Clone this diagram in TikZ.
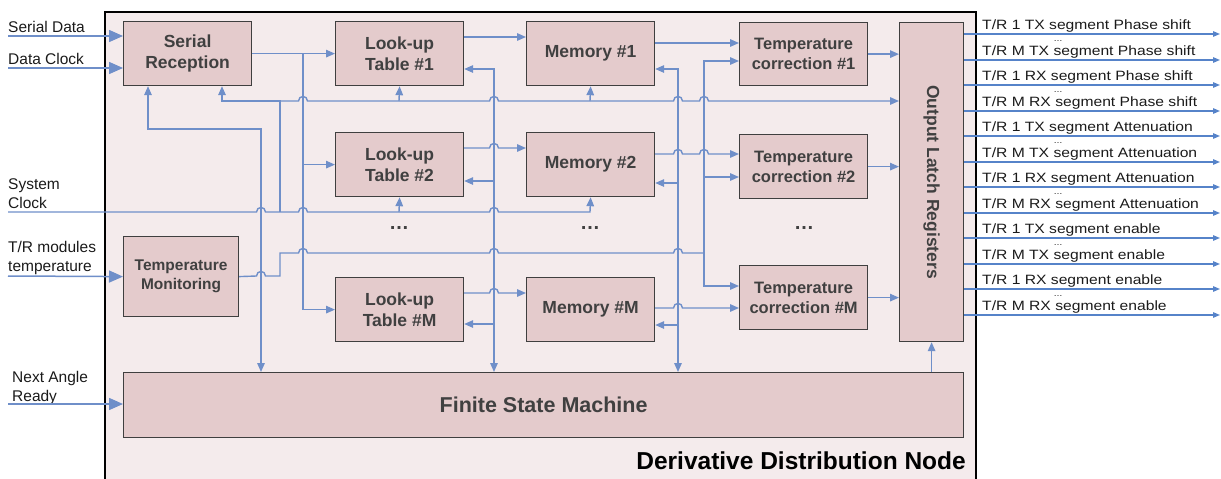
\documentclass[tikz,border=0pt]{standalone}
\usepackage{fontspec}
\setmainfont{Liberation Sans}
\newfontfamily\widesans[FakeStretch=1.16]{Liberation Sans}
\usetikzlibrary{arrows.meta}

\definecolor{nodebg}{HTML}{F4EBEC}
\definecolor{blockfill}{HTML}{E4CBCC}
\definecolor{blockline}{HTML}{3F3F3F}
\definecolor{blocktext}{HTML}{404040}
\definecolor{wirecol}{HTML}{6F8FC9}
\definecolor{outcol}{HTML}{5683C9}
\definecolor{labeltext}{HTML}{1A1A1A}

% line jump (small semicircular hop) over a vertical wire at x=#1 on a horizontal run at y=#2
\newcommand\hop[2]{-- ({#1-4.5},#2) .. controls ({#1-4.5},{#2-6}) and ({#1+4.5},{#2-6}) .. ({#1+4.5},#2)}

\begin{document}
\begin{tikzpicture}[x=1pt,y=-1pt,
  block/.style={draw=blockline, line width=1.2pt, fill=blockfill, text=blocktext,
    align=center, inner sep=0pt, anchor=north west,
    font=\bfseries\fontsize{17.5}{21}\selectfont},
  wire/.style={draw=wirecol, line width=1.4pt},
  arrowin/.style={-{Triangle[length=9pt,width=7.5pt]}},
  arrowboth/.style={{Triangle[length=9pt,width=7.5pt]}-{Triangle[length=9pt,width=7.5pt]}},
  infeed/.style={draw=wirecol, line width=1.5pt, -{Triangle[length=14pt,width=12pt]}},
  outwire/.style={draw=outcol, line width=1.3pt, -{Triangle[length=7pt,width=5.5pt]}},
  inlabel/.style={anchor=west, align=left, inner sep=0pt, text=labeltext,
    font=\fontsize{15.5}{19}\selectfont},
  outlabel/.style={anchor=base west, inner sep=0pt, text=labeltext,
    font=\widesans\fontsize{13.5}{15}\selectfont},
  outdots/.style={anchor=base, inner sep=0pt, text=labeltext, font=\fontsize{9}{10}\selectfont},
  rowdots/.style={inner sep=0pt, text=blocktext, font=\bfseries\fontsize{20}{22}\selectfont},
]
\useasboundingbox (0,0) rectangle (1221,479);

% enclosing node
\node[draw=black, line width=2pt, fill=nodebg, anchor=north west, inner sep=0pt,
      minimum width=871pt, minimum height=475pt] (ddn) at (104,11) {};
\node[anchor=base east, inner sep=0pt, font=\bfseries\fontsize{24.5}{26}\selectfont]
      (ddnlabel) at (966,469) {Derivative Distribution Node};

% functional blocks
\node[block, minimum width=128pt, minimum height=64pt] (sr)   at (123,21)  {Serial\\Reception};
\node[block, minimum width=128pt, minimum height=64pt] (lut1) at (335,21)  {Look-up\\Table \#1};
\node[block, minimum width=128pt, minimum height=64pt] (mem1) at (526,21)  {Memory \#1};
\node[block, minimum width=128pt, minimum height=63pt,
      font=\bfseries\fontsize{16.5}{20}\selectfont] (tc1) at (739,22) {Temperature\\correction \#1};
\node[block, minimum width=128pt, minimum height=64pt] (lut2) at (335,132) {Look-up\\Table \#2};
\node[block, minimum width=128pt, minimum height=64pt] (mem2) at (526,132) {Memory \#2};
\node[block, minimum width=128pt, minimum height=64pt,
      font=\bfseries\fontsize{16.5}{20}\selectfont] (tc2) at (739,134) {Temperature\\correction \#2};
\node[block, minimum width=128pt, minimum height=64pt] (lutm) at (335,277) {Look-up\\Table \#M};
\node[block, minimum width=128pt, minimum height=64pt] (memm) at (526,277) {Memory \#M};
\node[block, minimum width=128pt, minimum height=64pt,
      font=\bfseries\fontsize{16.5}{20}\selectfont] (tcm) at (739,265) {Temperature\\correction \#M};
\node[block, minimum width=115pt, minimum height=80pt,
      font=\bfseries\fontsize{15.5}{19}\selectfont] (tm) at (123,236) {Temperature\\Monitoring};
\node[block, minimum width=840pt, minimum height=65pt,
      font=\bfseries\fontsize{21.5}{24}\selectfont] (fsm) at (123,372) {Finite State Machine};
\node[block, minimum width=64pt, minimum height=319pt] (olr) at (899,22) {};
\node[rotate=-90, inner sep=0pt, text=blocktext, font=\bfseries\fontsize{17.5}{21}\selectfont]
      (olrtext) at (olr.center) {Output Latch Registers};

% continuation marks
\node[rowdots] (dotslut) at (399,228) {…};
\node[rowdots] (dotsmem) at (590,228) {…};
\node[rowdots] (dotstc)  at (804,228) {…};

% external inputs
\node[inlabel] (lsd)  at (8,27)      {Serial Data};
\node[inlabel] (ldc)  at (8,59)      {Data Clock};
\node[inlabel] (lclk) at (8,194)     {System\\Clock};
\node[inlabel] (ltmp) at (8,258)     {T/R modules\\temperature};
\node[inlabel] (lna)  at (12,387.5)  {Next Angle\\Ready};

\coordinate (sdin)  at (8,36);
\coordinate (dcin)  at (8,68);
\coordinate (clkin) at (8,212);
\coordinate (tmpin) at (8,276);
\coordinate (nain)  at (8,404);

\draw[infeed] (sdin)  -- (sr.west |- sdin);
\draw[infeed] (dcin)  -- (sr.west |- dcin);
\draw[infeed] (tmpin) -- (tm.west);
\draw[infeed] (nain)  -- (fsm.west |- nain);

% system clock distribution
\draw[wire, arrowin] (clkin) \hop{261}{212} -- (280,212) \hop{303}{212} \hop{494}{212}
      -- (590,212) -- (mem2.south);
\draw[wire, arrowin] (399,212) -- (lut2.south);
\draw[wire, arrowin] (280,212) -- (280,101) -- (222,101) -- (sr.south -| 222,0);
\draw[wire, arrowin] (280,101) \hop{303}{101} \hop{494}{101} \hop{678}{101} \hop{704}{101}
      -- (olr.west |- 0,101);
\draw[wire, arrowin] (399,101) -- (lut1.south);
\draw[wire, arrowin] (590,101) -- (mem1.south);

% temperature monitoring to the correction blocks
\draw[wire] (tm.east) \hop{261}{276} -- (280,276) -- (280,253)
      \hop{303}{253} \hop{494}{253} \hop{678}{253} -- (704,253);
\draw[wire, arrowin] (704,253) -- (704,61) -- (tc1.west |- 0,61);
\draw[wire, arrowin] (704,177) -- (tc2.west |- 0,177);
\draw[wire, arrowin] (704,253) -- (704,286) -- (tcm.west |- 0,286);

% serial reception to the look-up tables
\draw[wire, arrowin] (sr.east) -- (lut1.west);
\draw[wire, arrowin] (303,53) |- (lutm.west);
\draw[wire, arrowin] (lut2.west -| 303,0) -- (lut2.west);

% serial reception <-> state machine
\draw[wire, arrowboth] (sr.south -| 148,0) |- (261,129) -- (fsm.north -| 261,0);

% state machine buses to look-up tables and memories
\draw[wire, arrowboth] (lut1.east |- 0,69) -| (fsm.north -| 494,0);
\draw[wire, arrowin] (494,181) -- (lut2.east |- 0,181);
\draw[wire, arrowin] (494,324) -- (lutm.east |- 0,324);
\draw[wire, arrowboth] (mem1.east |- 0,69) -| (fsm.north -| 678,0);
\draw[wire, arrowin] (678,183) -- (mem2.east |- 0,183);
\draw[wire, arrowin] (678,325) -- (memm.east |- 0,325);

% look-up tables to memories
\draw[wire, arrowin] (lut1.east |- 0,37) -- (mem1.west |- 0,37);
\draw[wire, arrowin] (lut2.east |- 0,148) \hop{494}{148} -- (mem2.west |- 0,148);
\draw[wire, arrowin] (lutm.east |- 0,293) \hop{494}{293} -- (memm.west |- 0,293);

% memories to temperature correction
\draw[wire, arrowin] (mem1.east |- 0,43) -- (tc1.west |- 0,43);
\draw[wire, arrowin] (mem2.east |- 0,154) \hop{678}{154} \hop{704}{154} -- (tc2.west |- 0,154);
\draw[wire, arrowin] (memm.east |- 0,308) \hop{678}{308} -- (tcm.west |- 0,308);

% temperature correction to output latch
\draw[wire, arrowin] (tc1.east) -- (olr.west |- tc1.east);
\draw[wire, arrowin] (tc2.east) -- (olr.west |- tc2.east);
\draw[wire, arrowin] (tcm.east) -- (olr.west |- tcm.east);
\draw[wire, arrowin] (olr.south |- fsm.north) -- (olr.south);

% latched outputs
\foreach [count=\i] \y/\n/\d/\k in {34/1/TX/Phase shift, 60/M/TX/Phase shift,
    85/1/RX/Phase shift, 111/M/RX/Phase shift,
    136/1/TX/Attenuation, 162/M/TX/Attenuation,
    187/1/RX/Attenuation, 213/M/RX/Attenuation,
    238/1/TX/enable, 264/M/TX/enable,
    289/1/RX/enable, 315/M/RX/enable} {
  \draw[outwire] (olr.east |- 0,\y) -- (1220,\y);
  \node[outlabel] (out\i) at (982,{\y-5}) {T/R \n\ \d\ segment \k};
}
\foreach [count=\j] \y in {34,85,136,187,238,289}
  \node[outdots] (odots\j) at (1058,{\y+7}) {…};
\end{tikzpicture}
\end{document}
